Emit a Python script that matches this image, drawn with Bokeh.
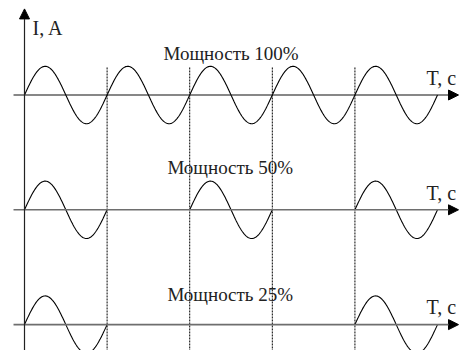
import numpy as np
from bokeh.plotting import figure
from bokeh.models import Arrow, NormalHead
from bokeh.core.properties import value
from bokeh.embed import file_html
from bokeh.resources import INLINE

# Data
power_labels = ["Мощность 100%", "Мощность 50%", "Мощность 25%"]
# which of the 5 periods carry current in each mode
period_on = [
    [1, 1, 1, 1, 1],
    [1, 0, 1, 0, 1],
    [1, 0, 0, 0, 1],
]
panel_offsets = [0.0, -4.0, -8.0]  # baseline of each panel (amplitude units)
n_periods = 5
amplitude = 1.0
y_axis_label = "I, A"
x_axis_label = "T, c"

p = figure(width=459, height=350, output_backend="svg", toolbar_location=None,
           x_range=(-0.2906, 5.266), y_range=(-8.902, 3.293),
           min_border=0, background_fill_color="white", border_fill_color="white")
p.axis.visible = False
p.grid.visible = False
p.outline_line_color = None

# dotted period separators
seps = list(range(1, n_periods))
p.segment(x0=seps, x1=seps, y0=[0.96] * len(seps), y1=[-9.5] * len(seps),
          line_color="#000000", line_width=1, line_dash="2 1")

# baselines with arrows
for k, off in enumerate(panel_offsets):
    col = "#111111" if k == 0 else "#6e6e6e"
    lw = 1.2 if k == 0 else 1.6
    p.add_layout(Arrow(end=NormalHead(size=10, fill_color="black", line_color="black"),
                       x_start=-0.133, y_start=off, x_end=5.254, y_end=off,
                       line_color=col, line_width=lw))

# vertical axis
p.add_layout(Arrow(end=NormalHead(size=10, fill_color="black", line_color="black"),
                   x_start=0, y_start=-9.5, x_end=0, y_end=3.0,
                   line_color="#222222", line_width=1.2))

# waveforms
for on, off in zip(period_on, panel_offsets):
    for i, flag in enumerate(on):
        if flag:
            t = np.linspace(i, i + 1, 120)
            y = off + amplitude * np.sin(2 * np.pi * (t - i))
            p.line(t, y, line_color="black", line_width=1.1)

# labels
font = value("Times New Roman")
label_y = [1.46, 1.49, 1.065]
label_x = [1.683, 1.73, 1.73]
for lab, lx, ly, off in zip(power_labels, label_x, label_y, panel_offsets):
    p.text(x=[lx], y=[off + ly], text=[lab], text_font=font, text_font_size="19px",
           text_color="#222222", text_baseline="alphabetic", text_align="left")
    p.text(x=[4.867], y=[off + 0.6], text=[x_axis_label], text_font=font,
           text_font_size="20px", text_color="#222222", text_baseline="alphabetic")

p.text(x=[0.097], y=[2.34], text=[y_axis_label], text_font=font, text_font_size="20px",
       text_color="#222222", text_baseline="alphabetic")

open("out.html", "w").write(file_html(p, INLINE))
